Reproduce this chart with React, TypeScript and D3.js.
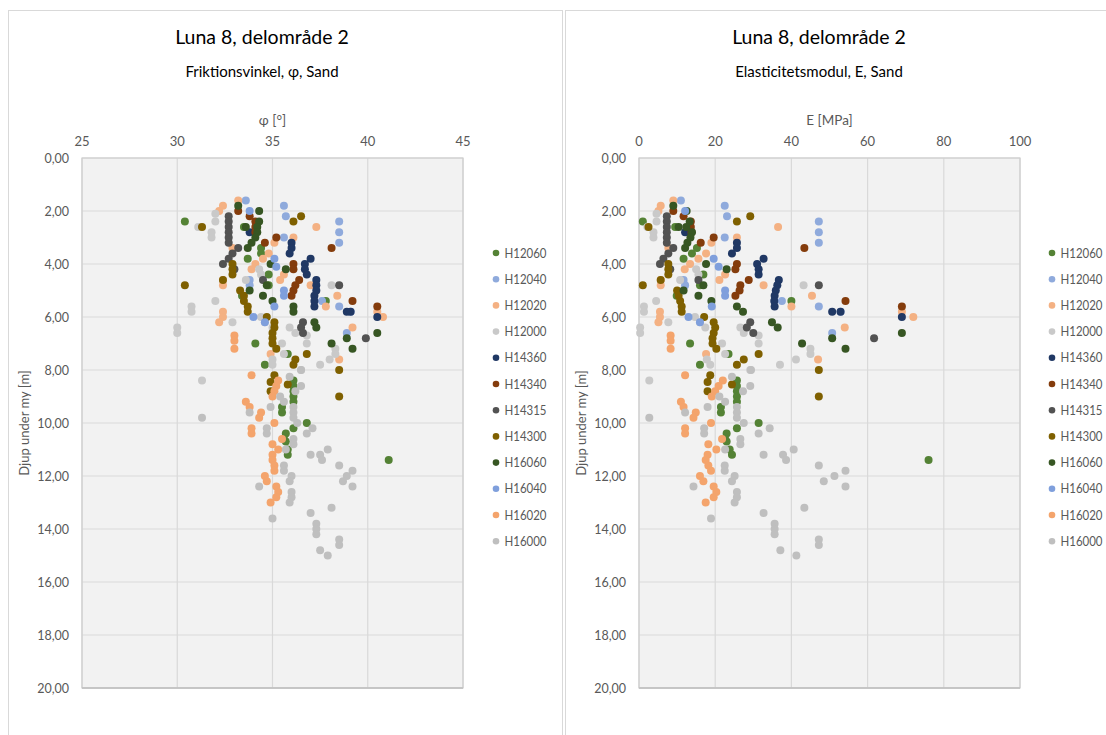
import React from "react";
import * as d3 from "d3";

const seriesNames = ["H12060","H12040","H12020","H12000","H14360","H14340","H14315","H14300","H16060","H16040","H16020","H16000"];
const seriesColors = ["#548235","#8FAADC","#F4B183","#C9C9C9","#203864","#843C0C","#525252","#7F6000","#375623","#7F9FDC","#F4A46C","#BFBFBF"];

const xTicksPhi = [25,30,35,40,45];
const xTicksE = [0,20,40,60,80,100];
const yTicks = [0,2,4,6,8,10,12,14,16,18,20];

// depth [m], friction angle [deg], E [MPa]
const H12060_depth = [2.4,2.6,3.4,3.6,3.8,4.4,4.8,5.2,5.4,7.0,7.4,7.8,8.4,8.6,8.8,9.0,9.2,9.4,9.6,10.0,10.2,10.4,10.6,10.7,11.0,11.2,11.4];
const H12060_phi = [30.4,33.5,34.4,34.4,33.7,34.8,34.8,33.4,37.8,34.1,35.8,34.6,36.1,36.1,36.1,36.1,36.1,35.5,35.5,36.8,36.1,35.7,35.6,35.7,35.8,35.8,41.1];
const H12060_E = [1,9.5,15.2,13.9,11.7,16.9,16,9.9,40,13.4,23.5,16,25.7,25.7,25.7,25.7,25.7,21.5,21.5,31.4,25.7,23,22.6,23,23.8,24.4,76];

const H12040_depth = [1.6,1.8,2.2,2.4,2.8,3.0,3.2,4.6,4.8,5.4,5.6,5.8,6.6];
const H12040_phi = [33.6,35.6,35.7,38.5,38.5,35.6,38.5,33.8,33.8,37.6,38.5,39.1,38.9];
const H12040_E = [11,22.5,23.1,47.2,47.2,22.5,47.2,11.7,12.1,37.5,47.2,52.9,50.7];

const H12020_depth = [1.6,1.8,2.0,2.6,3.0,3.2,3.4,3.6,3.8,4.0,4.2,4.4,4.6,4.6,4.8,4.8,5.2,5.6,5.8,5.8,6.0,6.0,6.2,6.4,7.4,7.6];
const H12020_phi = [33.2,32.4,32.2,37.3,36.1,35.1,32.9,34.8,34.5,34.1,33.9,35.6,35.4,32.4,32.4,37.0,38.4,37.8,40.5,32.4,40.8,32.4,32.2,39.2,34.9,38.5];
const H12020_E = [9,5.7,5.1,36.5,25.7,19,7.7,17.6,15.6,13.4,12,22.6,21.1,5.7,5.7,32.7,45.4,40,69,5.5,72,5.5,5.1,54,17.6,47];

const H12000_depth = [2.1,2.4,2.6,2.8,3.0,4.2,4.4,4.6,4.8,5.4,5.6,5.8,6.0,6.2,6.2,6.4,6.4,6.4,6.6,6.6,6.7,7.0,7.0,7.2,7.4,7.4,7.6,7.6,7.8,7.8,8.0,8.4];
const H12000_phi = [32.0,32.0,31.1,31.8,31.8,34.3,34.4,33.6,38.1,32.0,30.75,30.75,34.4,34.6,32.9,35.0,35.9,30.0,36.2,30.0,36.8,36.8,35.5,38.3,38.3,35.6,38.0,35.0,37.5,35.0,36.5,31.3];
const H12000_E = [4.6,4.6,2.2,3.8,3.8,15,15.6,10.8,43.2,4.5,1.3,1.3,14.7,16,7.7,17.4,26.6,0.3,27.5,0.3,31.4,31.4,21.8,45,45,22.6,41.2,17.8,37,18.7,29.2,2.7];

const H14360_depth = [2.8,3.2,3.4,3.6,3.8,4.0,4.2,4.4,4.6,4.8,5.0,5.2,5.4,5.6,5.8,5.8,6.0];
const H14360_phi = [33.8,36.0,36.0,35.9,37.0,36.7,36.7,36.8,37.3,37.3,37.3,37.2,37.2,37.2,38.9,39.1,40.5];
const H14360_E = [12.1,25.7,25.7,24.4,32.7,31,31.4,31.4,36.7,36.3,35.9,35.6,35.5,35.6,50.7,52.9,69];

const H14340_depth = [2.0,2.2,2.4,2.6,2.8,3.0,3.2,3.4,4.0,4.2,4.6,4.8,5.0,5.2,5.4,5.6];
const H14340_phi = [33.2,33.8,34.1,34.1,34.1,35.2,34.6,38.1,36.1,36.1,36.4,36.2,36.1,36.0,39.2,40.5];
const H14340_E = [9,11.7,13.6,13.6,13.8,19.6,16.2,43.4,25.7,25.3,28.8,26.6,26.4,25.3,54.2,69];

const H14315_depth = [2.2,2.4,2.6,2.8,3.0,3.2,3.4,3.6,3.8,4.0,4.2,4.6,4.8,6.2,6.4,6.6,6.8];
const H14315_phi = [32.7,32.7,32.7,32.7,32.7,32.7,33.2,32.9,32.7,32.4,33.0,34.5,38.5,36.6,36.5,36.6,39.9];
const H14315_E = [7.3,7.3,7.3,7.3,7.3,7.3,9,7.7,6.4,5.5,8.2,15.6,47.2,29.2,28.3,30,61.7];

const H14300_depth = [2.2,2.4,2.6,4.0,4.2,4.4,4.6,4.8,5.0,5.2,5.4,5.6,5.8,6.0,6.2,6.4,6.6,6.8,7.0,7.2,7.4,7.6,7.8,8.0,8.2,8.45,8.55,8.8,9.0];
const H14300_phi = [36.5,36.1,31.3,32.9,32.9,32.9,32.4,30.4,33.3,33.5,33.5,33.7,33.7,34.7,35.1,35.1,35.0,35.0,35.0,35.2,36.8,36.2,36.1,38.5,35.1,34.9,35.8,34.9,38.5];
const H14300_E = [29.2,25.7,2.5,7.7,7.7,7.7,5.7,1,10,10.4,10.8,11.2,11.2,17.1,19.6,20,19.6,19.3,19.3,20.3,31.4,27.5,25.7,47.2,18.7,18,24.4,18,47.2];

const H16060_depth = [1.8,2.0,2.4,2.6,2.6,2.8,3.0,3.2,3.4,4.0,4.2,4.8,5.0,5.2,5.4,5.6,5.8,6.2,6.4,6.6,6.8,7.0,7.2];
const H16060_phi = [33.2,34.3,34.3,34.2,33.6,34.2,34.1,33.9,33.7,34.9,35.7,34.7,33.8,34.5,35.0,36.1,36.1,37.2,37.3,40.5,38.9,38.1,39.2];
const H16060_E = [9,12.5,13.3,12.4,10.4,13.9,13.5,12.7,12.1,17.6,23,16.9,11.7,15.6,19,25.7,27.3,34.9,36.4,69,50.7,42.8,54.2];

const H16040_depth = [2.0,3.8,4.1,5.0,5.2,5.6,6.0,6.2];
const H16040_phi = [33.8,35.1,35.2,35.6,35.6,35.1,34.0,34.6];
const H16040_E = [12.1,19.6,20.9,22.6,22.6,19.1,13,16];

const H16020_depth = [6.7,6.9,7.2,8.2,8.4,8.6,8.8,9.0,9.2,9.4,9.6,9.8,10.0,10.2,10.4,10.6,10.8,11.0,11.2,11.4,11.6,11.8,12.0,12.2,12.4,12.6,12.8,13.0];
const H16020_phi = [33.0,33.0,33.0,33.9,35.3,35.2,35.1,35.0,33.6,33.8,34.4,34.3,35.1,33.9,33.9,35.5,35.0,35.3,35.0,35.0,35.1,35.1,34.6,34.7,35.2,35.3,35.2,34.9];
const H16020_E = [8.3,8.3,8.3,12.1,22,20.9,20,19.1,11,11.7,14.9,14.3,18.9,12.1,12.1,21.8,18.2,20.3,18,17.5,18.2,18.9,16,16.9,19.6,20.3,19.6,17.5];

const H16000_depth = [8.0,8.25,8.6,8.8,9.0,9.2,9.4,9.4,9.6,9.6,9.8,9.8,10.0,10.2,10.4,10.2,10.4,10.6,10.8,11.0,11.0,11.2,11.2,11.4,11.6,11.8,12.0,12.2,12.4,11.6,11.8,12.0,12.2,12.6,12.8,13.0,12.4,13.6,13.2,13.4,13.8,14.0,14.2,14.8,15.0,14.4,14.6];
const H16000_phi = [36.5,35.9,36.5,36.2,35.4,35.6,34.9,36.1,33.8,36.1,36.1,31.3,36.3,34.7,34.7,37.1,36.8,36.1,36.1,35.7,37.9,37.0,37.5,37.6,38.5,39.2,38.9,38.7,39.2,35.6,35.6,36.0,35.9,36.0,36.0,35.9,34.3,35.0,38.1,37.0,37.3,37.3,37.3,37.5,37.9,38.5,38.5];
const H16000_E = [29.4,24.4,29.2,27.3,21.1,22.6,18,25.7,12.1,25.7,25.7,2.7,27.5,17.1,17.1,34.3,31.4,26.6,26.6,22.6,40.6,32.7,37.8,38.6,47.2,54.2,51.3,48.5,54.2,22.5,22.5,25.1,24.4,25.7,25.7,25.1,14.3,18.9,43.4,32.7,35.6,35.6,35.6,37.1,41.3,47.2,47.2];

const depthData = [H12060_depth,H12040_depth,H12020_depth,H12000_depth,H14360_depth,H14340_depth,H14315_depth,H14300_depth,H16060_depth,H16040_depth,H16020_depth,H16000_depth];
const phiData = [H12060_phi,H12040_phi,H12020_phi,H12000_phi,H14360_phi,H14340_phi,H14315_phi,H14300_phi,H16060_phi,H16040_phi,H16020_phi,H16000_phi];
const eData = [H12060_E,H12040_E,H12020_E,H12000_E,H14360_E,H14340_E,H14315_E,H14300_E,H16060_E,H16040_E,H16020_E,H16000_E];

const FONT = "Lato, 'Open Sans', sans-serif";
const GRAY = "#595959";
const GRID = "#D9D9D9";

type PanelProps = {
  offset: number;
  legendX: number;
  subtitle: string;
  axisTitle: string;
  domain: [number, number];
  ticks: number[];
  values: number[][];
};

function Panel({ offset, legendX, subtitle, axisTitle, domain, ticks, values }: PanelProps) {
  const left = 82 + offset;
  const right = 463 + offset;
  const top = 158;
  const bottom = 688;
  const x = d3.scaleLinear().domain(domain).range([left, right]);
  const y = d3.scaleLinear().domain([0, 20]).range([top, bottom]);
  const fmt = (v: number) => d3.format(".2f")(v).replace(".", ",");
  const cx = (left + right) / 2;
  const titleX = 262 + offset;
  return (
    <g>
      <rect x={8.5 + offset} y={10.5} width={554} height={740} fill="#fff" stroke={GRID} strokeWidth={1} />
      <text x={titleX} y={44} textAnchor="middle" fontSize={19.5} fontFamily={FONT} fill="#000">Luna 8, delområde 2</text>
      <text x={titleX} y={77} textAnchor="middle" fontSize={15} fontFamily={FONT} fill="#000">{subtitle}</text>
      <rect x={left} y={top} width={right - left} height={bottom - top} fill="#F2F2F2" />
      {ticks.map((t) => (
        <line key={"gx" + t} x1={x(t)} x2={x(t)} y1={top} y2={bottom} stroke={GRID} strokeWidth={1.2} />
      ))}
      {yTicks.map((t) => (
        <line key={"gy" + t} x1={left} x2={right} y1={y(t)} y2={y(t)} stroke={GRID} strokeWidth={1.2} />
      ))}
      <rect x={left} y={top} width={right - left} height={bottom - top} fill="none" stroke="#CFCFCF" strokeWidth={1.2} />
      <line x1={left} x2={right} y1={bottom} y2={bottom} stroke="#BFBFBF" strokeWidth={1.5} />
      <text x={cx} y={125} textAnchor="middle" fontSize={13.5} fontFamily={FONT} fill={GRAY}>{axisTitle}</text>
      {ticks.map((t) => (
        <text key={"tx" + t} x={x(t)} y={146} textAnchor="middle" fontSize={13} fontFamily={FONT} fill={GRAY}>{t}</text>
      ))}
      {yTicks.map((t) => (
        <text key={"ty" + t} x={left - 13} y={y(t) + 4.5} textAnchor="end" fontSize={12.5} fontFamily={FONT} fill={GRAY}>{fmt(t)}</text>
      ))}
      <text transform={`translate(${offset + 29},${(top + bottom) / 2}) rotate(-90)`} textAnchor="middle" fontSize={13} fontFamily={FONT} fill={GRAY}>Djup under my [m]</text>
      {seriesNames.map((name, si) => (
        <g key={name}>
          {values[si].map((v, i) => (
            <circle key={i} cx={x(v)} cy={y(depthData[si][i])} r={4} fill={seriesColors[si]} />
          ))}
        </g>
      ))}
      {seriesNames.map((name, si) => (
        <g key={"lg" + name}>
          <circle cx={legendX} cy={253 + si * 26.2} r={3.3} fill={seriesColors[si]} />
          <text x={legendX + 8.5} y={253 + si * 26.2 + 4.5} fontSize={12.5} fontFamily={FONT} fill={GRAY} textLength={42} lengthAdjust="spacingAndGlyphs">{name}</text>
        </g>
      ))}
    </g>
  );
}

export default function App() {
  return (
    <svg width={1106} height={735} style={{ position: "absolute", left: 0, top: 0, background: "#fff" }}>
      <rect x={0} y={0} width={1106} height={735} fill="#fff" />
      <Panel offset={0} legendX={496} subtitle="Friktionsvinkel, φ, Sand" axisTitle="φ [°]" domain={[25, 45]} ticks={xTicksPhi} values={phiData} />
      <Panel offset={557} legendX={1052} subtitle="Elasticitetsmodul, E, Sand" axisTitle="E [MPa]" domain={[0, 100]} ticks={xTicksE} values={eData} />
    </svg>
  );
}
